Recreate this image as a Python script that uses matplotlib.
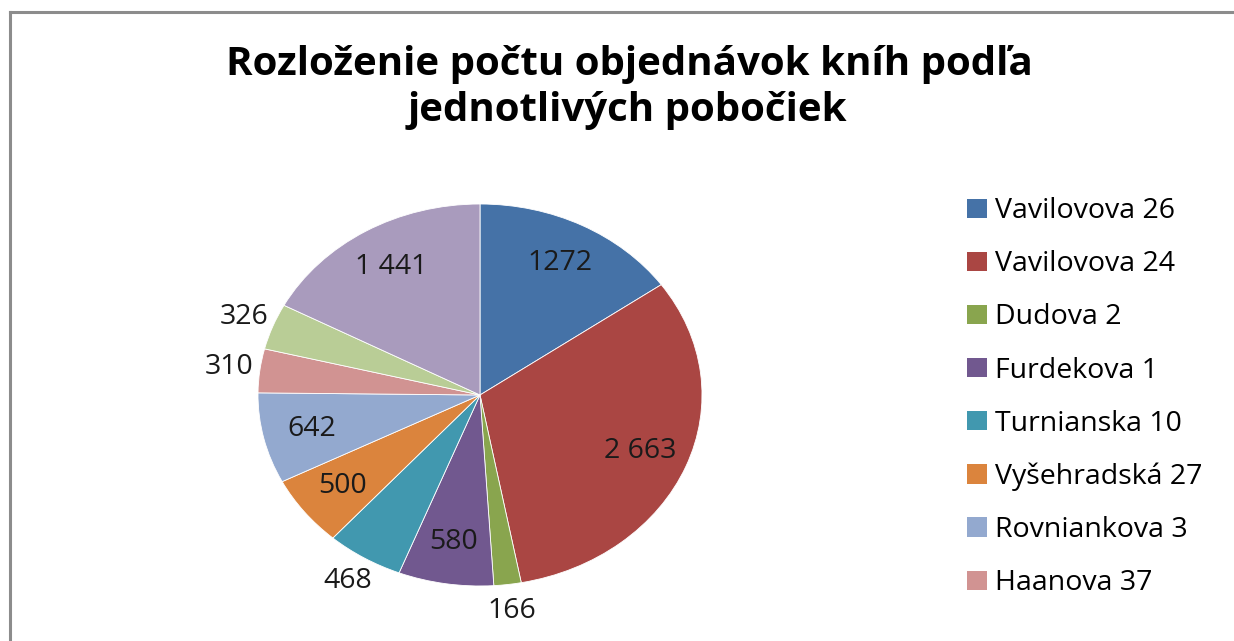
import numpy as np, matplotlib
matplotlib.use("Agg")
import matplotlib.pyplot as plt
from matplotlib.patches import Patch

plt.rcParams['font.family'] = ['Open Sans', 'DejaVu Sans']

# pobočky (the last two legend rows are cut off in the original picture)
branches = ["Vavilovova 26", "Vavilovova 24", "Dudova 2", "Furdekova 1",
            "Turnianska 10", "Vyšehradská 27", "Rovniankova 3", "Haanova 37",
            None, None]
orders = [1272, 2663, 166, 580, 468, 500, 642, 310, 326, 1441]
label_txt = ["1272", "2 663", "166", "580", "468", "500", "642", "310", "326", "1 441"]
outside = {2, 4, 7, 8}
colors = ["#4572A7", "#AA4643", "#89A54E", "#71588F", "#4198AF",
          "#DB843D", "#93A9CF", "#D19392", "#B9CD96", "#A99BBD"]

W, H = 1234, 641
fig = plt.figure(figsize=(W / 100, H / 100), dpi=100)

# chart frame (only left and top edge visible in the crop)
fig.add_artist(plt.Line2D([10 / W, 10 / W], [0, 1 - 12 / H], color="#8c8c8c", lw=2.2))
fig.add_artist(plt.Line2D([10 / W, 1], [1 - 12 / H, 1 - 12 / H], color="#8c8c8c", lw=2.2))

ax = fig.add_axes([258 / W, 55 / H, 444 / W, 382 / H])
wedges, _ = ax.pie(orders, colors=colors, startangle=90, counterclock=False,
                   wedgeprops=dict(edgecolor="white", linewidth=0.6))
ax.set_aspect("auto")
ax.set_xlim(-1, 1); ax.set_ylim(-1, 1)

for i, w in enumerate(wedges):
    th = np.deg2rad((w.theta1 + w.theta2) / 2)
    r = 1.14 if i in outside else 0.78
    ax.text(r * np.cos(th), r * np.sin(th), label_txt[i], ha="center", va="center",
            fontsize=20.5, color="#1a1a1a")

fig.text(629 / W, 1 - 64 / H, "Rozloženie počtu objednávok kníh podľa",
         ha="center", va="center", fontsize=29, fontweight="bold")
fig.text(627 / W, 1 - 110 / H, "jednotlivých pobočiek",
         ha="center", va="center", fontsize=29, fontweight="bold")

handles = [Patch(facecolor=colors[i], edgecolor="none") for i in range(len(branches)) if branches[i]]
names = [b for b in branches if b]
fig.legend(handles, names, loc="upper left", bbox_to_anchor=(956 / W, 1 - 186 / H),
           frameon=False, fontsize=20.5, handlelength=0.68, handleheight=0.68,
           handletextpad=0.3, labelspacing=0.88, borderaxespad=0)

plt.savefig("out.png", dpi=100)
